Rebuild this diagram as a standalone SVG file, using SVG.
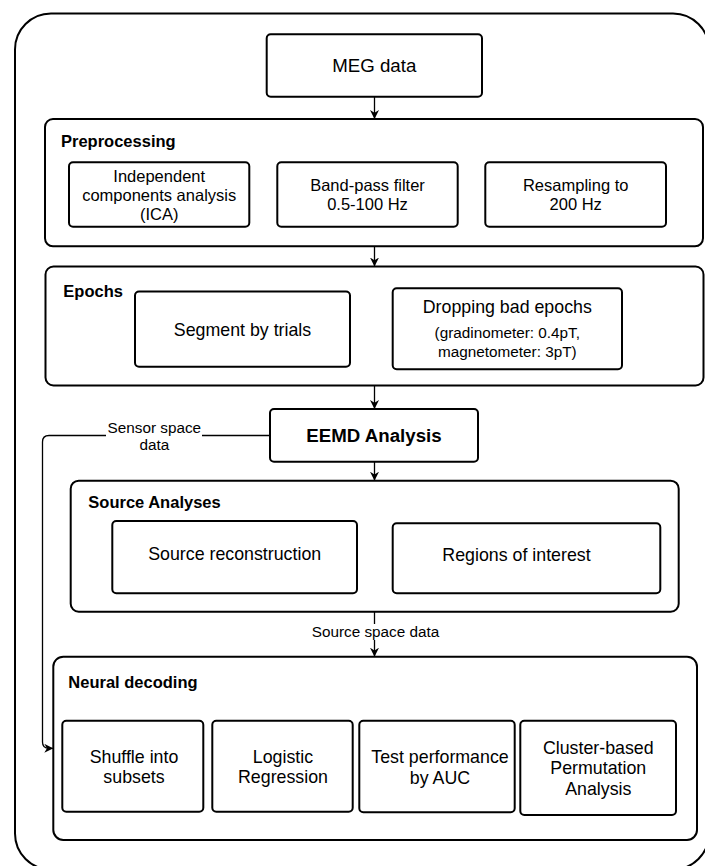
<svg xmlns="http://www.w3.org/2000/svg" width="705" height="866" viewBox="0 0 705 866">
<defs>
<marker id="arr" viewBox="0 0 10 10" refX="10" refY="5" markerWidth="9" markerHeight="9" markerUnits="userSpaceOnUse" orient="auto">
<path d="M0,0 L10,5 L0,10 L3,5 z" fill="#000"/>
</marker>
<style>
.box{fill:#fff;stroke:#000;stroke-width:2}
.cont{fill:#fff;stroke:#000;stroke-width:2}
.t{font-family:"Liberation Sans",Arial,Helvetica,sans-serif;fill:#000;text-anchor:middle}
.s165{font-size:16.5px}
.s178{font-size:17.8px}
.s153{font-size:15.3px}
.title{font-family:"Liberation Sans",Arial,Helvetica,sans-serif;fill:#000;font-size:16.5px;font-weight:bold}
.conn{fill:none;stroke:#000;stroke-width:1.3}
</style>
</defs>
<rect width="705" height="866" fill="#fff"/>
<g id="outer">
<rect x="15" y="13.5" width="694" height="856" rx="36" fill="none" stroke="#000" stroke-width="2"/>
</g>
<g id="meg">
<rect class="box" x="266.7" y="34.3" width="215.3" height="62.4" rx="4"/>
<text class="t" x="374.3" y="72" font-size="18.7">MEG data</text>
</g>
<g id="preprocessing">
<rect class="cont" x="45" y="119" width="658" height="127.3" rx="8"/>
<text class="title" x="61" y="146.7">Preprocessing</text>
</g>
<g id="ica">
<rect class="box" x="69" y="162.3" width="180.3" height="64.4" rx="4"/>
<text class="t s165" x="159.2" y="181.5">Independent</text>
<text class="t s165" x="159.2" y="200.5">components analysis</text>
<text class="t s165" x="159.2" y="219.5">(ICA)</text>
</g>
<g id="bandpass">
<rect class="box" x="277.3" y="162.3" width="180.4" height="64.4" rx="4"/>
<text class="t s165" x="367.5" y="191">Band-pass filter</text>
<text class="t s165" x="367.5" y="210">0.5-100 Hz</text>
</g>
<g id="resampling">
<rect class="box" x="485.3" y="162.3" width="180.7" height="64.4" rx="4"/>
<text class="t s165" x="575.7" y="191">Resampling to</text>
<text class="t s165" x="575.7" y="210">200 Hz</text>
</g>
<g id="epochs">
<rect class="cont" x="45.5" y="266.5" width="658" height="119" rx="8"/>
<text class="title" x="63.3" y="296.7">Epochs</text>
</g>
<g id="segment">
<rect class="box" x="135" y="291.5" width="215" height="75.2" rx="4"/>
<text class="t s178" x="242.5" y="335.8">Segment by trials</text>
</g>
<g id="dropping">
<rect class="box" x="392.7" y="288.3" width="229.3" height="81" rx="4"/>
<text class="t s178" x="507.3" y="313.3">Dropping bad epochs</text>
<text class="t s153" x="507.3" y="338.3">(gradinometer: 0.4pT,</text>
<text class="t s153" x="507.3" y="356.7">magnetometer: 3pT)</text>
</g>
<g id="eemd">
<rect class="box" x="270" y="409" width="208" height="52.7" rx="4"/>
<text class="t" x="374" y="441.5" font-size="18.7" font-weight="bold">EEMD Analysis</text>
</g>
<g id="source-analyses">
<rect class="cont" x="70.7" y="480.7" width="608" height="131" rx="8"/>
<text class="title" x="88.3" y="508.3">Source Analyses</text>
</g>
<g id="source-reconstruction">
<rect class="box" x="112.3" y="521" width="244.7" height="72.3" rx="4"/>
<text class="t s178" x="234.7" y="560">Source reconstruction</text>
</g>
<g id="regions">
<rect class="box" x="392.7" y="523.3" width="267.6" height="70" rx="4"/>
<text class="t s178" x="516.5" y="561">Regions of interest</text>
</g>
<g id="neural-decoding">
<rect class="cont" x="53.3" y="656.7" width="643.7" height="183.3" rx="10"/>
<text class="title" x="68.3" y="688.3">Neural decoding</text>
</g>
<g id="shuffle">
<rect class="box" x="62.3" y="720.7" width="141" height="91" rx="4"/>
<text class="t s178" x="134" y="762.5">Shuffle into</text>
<text class="t s178" x="134" y="783">subsets</text>
</g>
<g id="logistic">
<rect class="box" x="212.3" y="720.7" width="140.4" height="91" rx="4"/>
<text class="t s178" x="283" y="762.5">Logistic</text>
<text class="t s178" x="283" y="783">Regression</text>
</g>
<g id="test-performance">
<rect class="box" x="359.3" y="720.7" width="155.4" height="91.6" rx="4"/>
<text class="t s178" x="440" y="763">Test performance</text>
<text class="t s178" x="440" y="783.5">by AUC</text>
</g>
<g id="cluster">
<rect class="box" x="520.3" y="720.7" width="155.7" height="94.3" rx="4"/>
<text class="t s178" x="598.3" y="753.7">Cluster-based</text>
<text class="t s178" x="598.3" y="774.2">Permutation</text>
<text class="t s178" x="598.3" y="794.7">Analysis</text>
</g>
<g id="connectors">
<line class="conn" x1="374.5" y1="96.7" x2="374.5" y2="119" marker-end="url(#arr)"/>
<line class="conn" x1="374.5" y1="246.3" x2="374.5" y2="266.5" marker-end="url(#arr)"/>
<line class="conn" x1="374.5" y1="385.5" x2="374.5" y2="409" marker-end="url(#arr)"/>
<line class="conn" x1="374.5" y1="461.7" x2="374.5" y2="480.7" marker-end="url(#arr)"/>
<line class="conn" x1="374.5" y1="611.7" x2="374.5" y2="656.7" marker-end="url(#arr)"/>
<rect x="310" y="624" width="131" height="16" fill="#fff"/>
<text class="t s153" x="375.5" y="636.7">Source space data</text>
<path class="conn" d="M270,435.5 H49 Q42.5,435.5 42.5,442 V742 Q42.5,748.3 49,748.3 H53.3" marker-end="url(#arr)"/>
<rect x="106" y="420" width="96" height="34" fill="#fff"/>
<text class="t s153" x="154.3" y="432.7">Sensor space</text>
<text class="t s153" x="154.3" y="450">data</text>
</g>
</svg>
